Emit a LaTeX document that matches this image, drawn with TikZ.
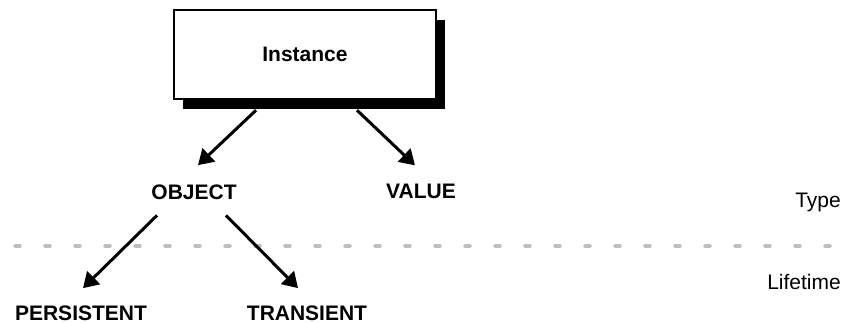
\documentclass[tikz,border=0pt]{standalone}
\usepackage{fontspec}
\setmainfont{Liberation Sans}
\usetikzlibrary{arrows.meta,shadows}
\definecolor{dashgray}{RGB}{190,190,190}
\tikzset{
  lbl/.style={inner sep=0pt, font=\fontsize{21}{25}\selectfont\bfseries},
  side/.style={inner sep=0pt, font=\fontsize{21}{25}\selectfont, anchor=base east},
  arr/.style={line width=3pt, -{Triangle[length=15pt,width=18pt]}},
  instbox/.style={draw, line width=2.5pt, fill=white, minimum width=262pt, minimum height=89pt,
    inner sep=0pt, font=\fontsize{21}{25}\selectfont\bfseries,
    drop shadow={fill=black, opacity=1, shadow xshift=9pt, shadow yshift=-10pt}},
  sep/.style={dashgray, line width=3.5pt, line cap=round, dash pattern=on 5pt off 25pt}
}
\begin{document}
\begin{tikzpicture}[x=1pt,y=-1pt]
\useasboundingbox (0,0) rectangle (844,323);
\node[instbox] (inst) at (305,54.5) {Instance};
\node[lbl, anchor=base] (obj) at (194,200) {OBJECT};
\node[lbl, anchor=base] (val) at (421,199) {VALUE};
\node[lbl, anchor=base] (per) at (81,320) {PERSISTENT};
\node[lbl, anchor=base] (tra) at (307,320) {TRANSIENT};
\node[side] (typ) at (841,208) {Type};
\node[side] (life) at (841,290) {Lifetime};
\coordinate (sepl) at (15,246);
\coordinate (sepr) at (844,246);
\draw[sep] (sepl) -- (sepr);
\draw[arr] ([shift={(-49,10)}]inst.south) -- ([shift={(4,-20)}]obj.north);
\draw[arr] ([shift={(52,10)}]inst.south) -- ([shift={(-6,-19)}]val.north);
\draw[arr] ([shift={(-37,15)}]obj.south) -- ([shift={(2,-17)}]per.north);
\draw[arr] ([shift={(32,15)}]obj.south) -- ([shift={(-9,-17)}]tra.north);
\end{tikzpicture}
\end{document}
